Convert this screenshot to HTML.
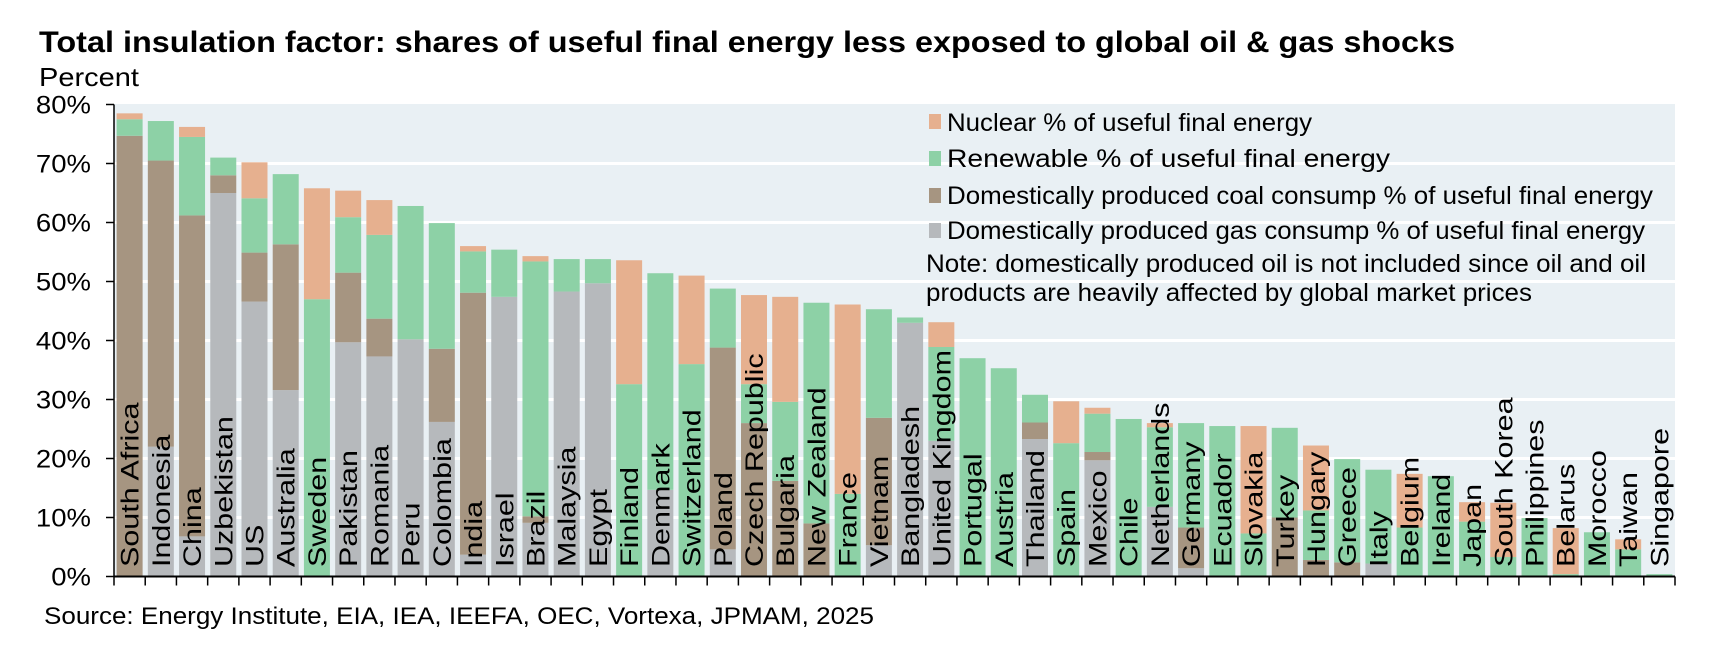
<!DOCTYPE html>
<html><head><meta charset="utf-8"><style>
body{margin:0;background:#fff;}
svg{display:block;font-family:"Liberation Sans",Arial,sans-serif;}
</style></head><body>
<svg id="chart" width="1735" height="646" viewBox="0 0 1735 646" xmlns="http://www.w3.org/2000/svg">
<text x="39" y="52" font-size="30" font-weight="bold" textLength="1416" lengthAdjust="spacingAndGlyphs">Total insulation factor: shares of useful final energy less exposed to global oil &amp; gas shocks</text>
<text x="39" y="86" font-size="26" textLength="100" lengthAdjust="spacingAndGlyphs">Percent</text>
<rect x="114" y="104" width="1561" height="473" fill="#e9f0f4"/>
<g id="grid"></g>
<g id="bars"></g>
<g id="labels"></g>
<g id="axes"></g>
<g>
<rect x="929" y="114" width="12" height="15" fill="#e6b08f"/>
<text x="947" y="131" font-size="25" textLength="365" lengthAdjust="spacingAndGlyphs">Nuclear % of useful final energy</text>
<rect x="929" y="151" width="12" height="15" fill="#8dd1a6"/>
<text x="947" y="167" font-size="25" textLength="443" lengthAdjust="spacingAndGlyphs">Renewable % of useful final energy</text>
<rect x="929" y="188" width="12" height="15" fill="#a69581"/>
<text x="947" y="204" font-size="25" textLength="706" lengthAdjust="spacingAndGlyphs">Domestically produced coal consump % of useful final energy</text>
<rect x="929" y="223" width="12" height="15" fill="#b6b9bc"/>
<text x="947" y="239" font-size="25" textLength="698" lengthAdjust="spacingAndGlyphs">Domestically produced gas consump % of useful final energy</text>
<text x="926" y="272" font-size="25" textLength="720" lengthAdjust="spacingAndGlyphs">Note: domestically produced oil is not included since oil and oil</text>
<text x="926" y="301" font-size="25" textLength="606" lengthAdjust="spacingAndGlyphs">products are heavily affected by global market prices</text>
</g>
<text x="44" y="624" font-size="24" textLength="830" lengthAdjust="spacingAndGlyphs">Source: Energy Institute, EIA, IEA, IEEFA, OEC, Vortexa, JPMAM, 2025</text>
</svg>
<script>
const categories=["South Africa","Indonesia","China","Uzbekistan","US","Australia","Sweden","Pakistan","Romania","Peru","Colombia","India","Israel","Brazil","Malaysia","Egypt","Finland","Denmark","Switzerland","Poland","Czech Republic","Bulgaria","New Zealand","France","Vietnam","Bangladesh","United Kingdom","Portugal","Austria","Thailand","Spain","Mexico","Chile","Netherlands","Germany","Ecuador","Slovakia","Turkey","Hungary","Greece","Italy","Belgium","Ireland","Japan","South Korea","Philippines","Belarus","Morocco","Taiwan","Singapore"];
const gas=[0,22,6.8,65,46.6,31.6,0,39.7,37.3,40.2,26.2,3.7,47.4,9.1,48.3,49.7,0,14.7,0,4.6,0,0,0,0,5.3,43,23,0,0,23.3,0,19.7,0,11.8,1.4,0,0,0,0,0,2.2,0,0,0,0,0,0,0,0,0];
const coal=[74.7,48.5,54.4,3,8.3,24.7,0,11.8,6.4,0,12.4,44.4,0,1.1,0,0,0,0,0,34.2,26,16.2,9,0,21.6,0,0,0,0,2.8,0,1.4,0,0,6.9,0,0,10,2.8,2.4,0,0,0,0,0,0,0,0,0,0];
const renewable=[2.8,6.7,13.3,3,9.2,11.9,47,9.4,14.2,22.6,21.3,7,8,43.2,5.5,4.1,32.6,36.7,36,10,6.6,13.4,37.4,14,18.4,0.9,15.9,37,35.3,4.7,22.6,6.5,26.7,13.5,17.7,25.5,7.3,15.2,8.4,17.5,15.9,8.3,17,9.3,3.3,9.9,0.4,7.5,4.6,0.4];
const nuclear=[1,0,1.7,0,6.1,0,18.8,4.5,5.9,0,0,0.9,0,0.9,0,0,21,0,15,0,15.1,17.8,0,32.1,0,0,4.2,0,0,0,7.1,1,0,0.7,0,0,18.2,0,11,0,0,9.1,0,3.3,9.2,0,7.8,0,1.7,0];
const yTicks=[0,10,20,30,40,50,60,70,80];
const yTickLabels=["0%","10%","20%","30%","40%","50%","60%","70%","80%"];
const NS="http://www.w3.org/2000/svg";
const L=114,R=1675,Y0=576.5,PX=5.9;
const step=(R-L)/categories.length,bw=26;
const y=v=>Y0-v*PX;
const xc=i=>L+step*(i+0.5);
function mk(tag,attrs,parent){const e=document.createElementNS(NS,tag);for(const k in attrs)e.setAttribute(k,attrs[k]);parent.appendChild(e);return e;}
const grid=document.getElementById('grid'),bars=document.getElementById('bars'),labels=document.getElementById('labels'),axes=document.getElementById('axes');
yTicks.forEach((t,i)=>{
 if(t>0&&t<80){const g=mk('line',{x1:L,x2:R,y1:y(t),y2:y(t),stroke:'#fff','stroke-width':3},grid);
 
 }
 const tk=mk('line',{x1:L-8,x2:L,y1:y(t),y2:y(t),stroke:'#000','stroke-width':1.5},axes);
 
 
 const tx=mk('text',{x:91,y:y(t)+9,'font-size':25,'text-anchor':'end'},axes);
 tx.textContent=yTickLabels[i];
 
 
 const w=tx.getComputedTextLength();
 tx.setAttribute('textLength',w*1.1);
 tx.setAttribute('lengthAdjust','spacingAndGlyphs');
});
const series=[["gas",gas,"#b6b9bc"],["coal",coal,"#a69581"],["renewable",renewable,"#8dd1a6"],["nuclear",nuclear,"#e6b08f"]];
categories.forEach((c,i)=>{
 let base=0;
 series.forEach(([n,arr,col])=>{
  const v=arr[i];
  if(v>0){const r=mk('rect',{x:xc(i)-bw/2,y:y(base+v),width:bw,height:v*PX,fill:col},bars);
  
  }
  base+=v;
 });
 const t=mk('text',{x:0,y:0,'font-size':25,transform:`translate(${xc(i)+9},567) rotate(-90)`},labels);
 t.textContent=c;
 
 
 const w=t.getComputedTextLength();
 t.setAttribute('textLength',w*1.22);
 t.setAttribute('lengthAdjust','spacingAndGlyphs');
 const tk=mk('line',{x1:L+step*(i+1),x2:L+step*(i+1),y1:Y0,y2:Y0+9,stroke:'#000','stroke-width':1.5},axes);
 
 
});
const ax=mk('line',{x1:L,x2:L,y1:y(80),y2:Y0+9,stroke:'#000','stroke-width':1.5},axes);


const bx=mk('line',{x1:L,x2:R,y1:Y0,y2:Y0,stroke:'#000','stroke-width':2},axes);


</script>
</body></html>
